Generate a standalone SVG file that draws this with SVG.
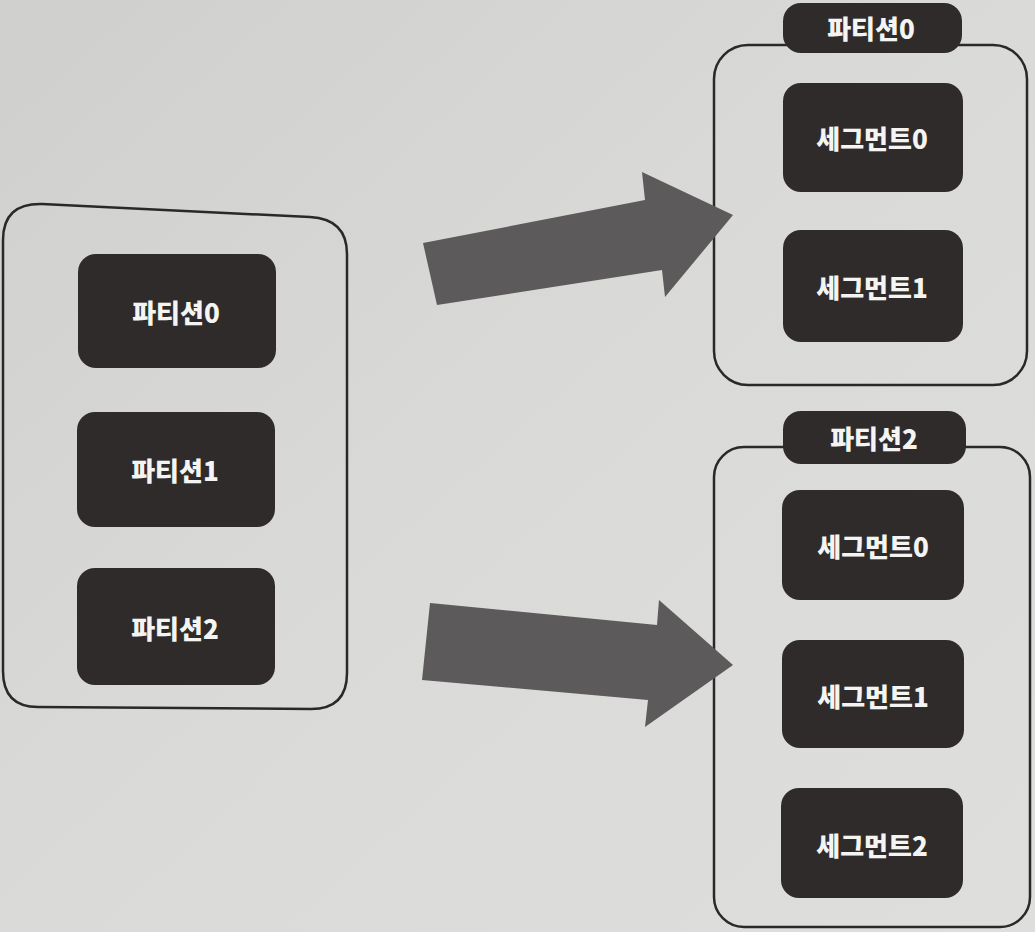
<svg xmlns="http://www.w3.org/2000/svg" width="1035" height="932" viewBox="0 0 1035 932">
  <defs>
    <linearGradient id="bg" x1="0" y1="0" x2="1" y2="1">
      <stop offset="0" stop-color="#cfcfcd"/>
      <stop offset="0.5" stop-color="#dadad8"/>
      <stop offset="1" stop-color="#dededc"/>
    </linearGradient>
    <style>
      .box { fill: #2f2b2b; }
      .cont { fill: none; stroke: #2a2828; stroke-width: 2.5; }
      .lbl { fill: #f4f4f2; font-family: "Noto Sans CJK KR", "Noto Sans", sans-serif; font-weight: 900; font-size: 26px; text-anchor: middle; dominant-baseline: central; }
      .arrow { fill: #5c5a5a; }
    </style>
  </defs>
  <rect x="0" y="0" width="1035" height="932" fill="url(#bg)"/>

  <g id="source">
    <path class="cont" d="M 42,204 L 310,217 Q 347,219 347,254 L 347,673 Q 347,709 311,709 L 38,707 Q 3,707 3,671 L 3,240 Q 3,203 42,204 Z"/>
  </g>
  <g id="src-p0">
    <rect class="box" x="78" y="254" width="198" height="114" rx="18"/>
    <text class="lbl" x="176" y="311">파티션0</text>
  </g>
  <g id="src-p1">
    <rect class="box" x="77" y="412" width="198" height="115" rx="18"/>
    <text class="lbl" x="175" y="469">파티션1</text>
  </g>
  <g id="src-p2">
    <rect class="box" x="77" y="568" width="198" height="117" rx="18"/>
    <text class="lbl" x="175" y="627">파티션2</text>
  </g>

  <g id="part0">
    <rect class="cont" x="714" y="45" width="313" height="340" rx="34"/>
    <rect class="box" x="783" y="3" width="179" height="50" rx="18"/>
    <text class="lbl" x="871" y="27">파티션0</text>
  </g>
  <g id="part0-seg0">
    <rect class="box" x="783" y="83" width="180" height="109" rx="18"/>
    <text class="lbl" x="872" y="137">세그먼트0</text>
  </g>
  <g id="part0-seg1">
    <rect class="box" x="783" y="230" width="180" height="112" rx="18"/>
    <text class="lbl" x="872" y="286">세그먼트1</text>
  </g>

  <g id="part2">
    <rect class="cont" x="714" y="447" width="316" height="480" rx="30"/>
    <rect class="box" x="783" y="411" width="183" height="53" rx="18"/>
    <text class="lbl" x="874" y="437">파티션2</text>
  </g>
  <g id="part2-seg0">
    <rect class="box" x="782" y="490" width="182" height="110" rx="18"/>
    <text class="lbl" x="873" y="545">세그먼트0</text>
  </g>
  <g id="part2-seg1">
    <rect class="box" x="782" y="640" width="182" height="108" rx="18"/>
    <text class="lbl" x="873" y="695">세그먼트1</text>
  </g>
  <g id="part2-seg2">
    <rect class="box" x="781" y="788" width="182" height="110" rx="18"/>
    <text class="lbl" x="872" y="844">세그먼트2</text>
  </g>

  <g id="connectors">
    <polygon class="arrow" points="423,243 645,200 642,172 733,215 665,297 662,270 437,305"/>
    <polygon class="arrow" points="430,603 657,625 659,600 733,665 645,727 648,700 422,680"/>
  </g>
</svg>
